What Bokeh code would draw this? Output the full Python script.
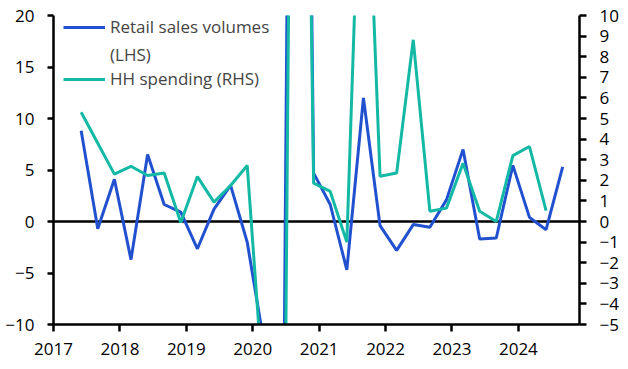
from bokeh.plotting import figure
from bokeh.models import Range1d, LinearAxis, FixedTicker, Span, Legend, LegendItem
from bokeh.embed import file_html
from bokeh.resources import INLINE

# ---- data ----
retail_dates = ["2017-06", "2017-09", "2017-12", "2018-03", "2018-06", "2018-09", "2018-12",
                "2019-03", "2019-06", "2019-09", "2019-12", "2020-03", "2020-06", "2020-09",
                "2020-12", "2021-03", "2021-06", "2021-09", "2021-12", "2022-03", "2022-06",
                "2022-09", "2022-12", "2023-03", "2023-06", "2023-09", "2023-12", "2024-03",
                "2024-06", "2024-09"]
retail_sales = [8.8, -0.7, 4.1, -3.7, 6.5, 1.65, 0.9, -2.65, 1.2, 3.5, -2.0, -11.7, -60.0, 145.0,
                4.7, 1.65, -4.7, 12.0, -0.4, -2.8, -0.3, -0.55, 2.1, 7.0, -1.7, -1.6, 5.45,
                0.4, -0.8, 5.3]
hh_dates = retail_dates[:-1]
hh_spending = [5.3, 3.8, 2.3, 2.68, 2.23, 2.35, -0.05, 2.18, 0.94, 1.75, 2.72, -8.5, -37.0, 59.5,
               1.86, 1.46, -1.0, 23.0, 2.2, 2.35, 8.82, 0.5, 0.65, 2.83, 0.5, 0.0, 3.2, 3.64, 0.53]
year_ticks = [2017, 2018, 2019, 2020, 2021, 2022, 2023, 2024]
lhs_ticks = [-10, -5, 0, 5, 10, 15, 20]
rhs_ticks = [-5, -4, -3, -2, -1, 0, 1, 2, 3, 4, 5, 6, 7, 8, 9, 10]


def to_year(d):
    y, m = d.split("-")
    return int(y) + (int(m) - 1) / 12.0


BLUE = "#2151CF"
TEAL = "#14B9A5"
FONT = "Open Sans"
TICK_SIZE = "17px"

p = figure(width=628, height=369, x_range=Range1d(2017, 2024.92), y_range=Range1d(-10, 20),
           output_backend="svg", toolbar_location=None,
           min_border_left=53, min_border_right=49, min_border_top=15, min_border_bottom=45)
p.extra_y_ranges = {"rhs": Range1d(-5, 10)}
p.xgrid.visible = False
p.ygrid.visible = False
p.outline_line_color = None
p.background_fill_color = "white"
p.border_fill_color = "white"

zero = Span(location=0, dimension="width", line_color="black", line_width=2.5, level="underlay")
p.add_layout(zero)

r1 = p.line([to_year(d) for d in retail_dates], retail_sales, line_color=BLUE, line_width=3)
r2 = p.line([to_year(d) for d in hh_dates], hh_spending, line_color=TEAL, line_width=3,
            y_range_name="rhs")
# invisible renderer used only for the second line of the first legend label
r_blank = p.line([], [], line_alpha=0)

rax = LinearAxis(y_range_name="rhs")
p.add_layout(rax, "right")

p.xaxis.ticker = FixedTicker(ticks=year_ticks)
p.yaxis[0].ticker = FixedTicker(ticks=lhs_ticks)
rax.ticker = FixedTicker(ticks=rhs_ticks)

for ax in [p.xaxis[0], p.yaxis[0], rax]:
    ax.axis_line_color = "black"
    ax.axis_line_width = 2.5
    ax.major_tick_line_color = "black"
    ax.major_tick_line_width = 2.5
    ax.major_tick_in = 0
    ax.major_tick_out = 7
    ax.minor_tick_line_color = None
    ax.major_label_text_font = FONT
    ax.major_label_text_font_size = TICK_SIZE
    ax.major_label_text_color = "black"
    ax.major_label_standoff = 12

p.yaxis[0].major_tick_out = 6
p.yaxis[0].major_label_standoff = 13
rax.major_label_standoff = 13
p.xaxis[0].major_label_standoff = 11

common = dict(border_line_color=None, background_fill_alpha=0, glyph_width=42, glyph_height=20,
              label_height=20, label_standoff=5, spacing=5, padding=0, margin=0,
              label_text_font=FONT, label_text_font_size="17px")
legend_a = Legend(items=[LegendItem(label="Retail sales volumes", renderers=[r1]),
                         LegendItem(label="(LHS)", renderers=[r_blank])],
                  location=(10, 258), **common)
legend_b = Legend(items=[LegendItem(label="HH spending (RHS)", renderers=[r2])],
                  location=(10, 234), **common)
p.add_layout(legend_a)
p.add_layout(legend_b)

open("out.html", "w").write(file_html(p, INLINE))
